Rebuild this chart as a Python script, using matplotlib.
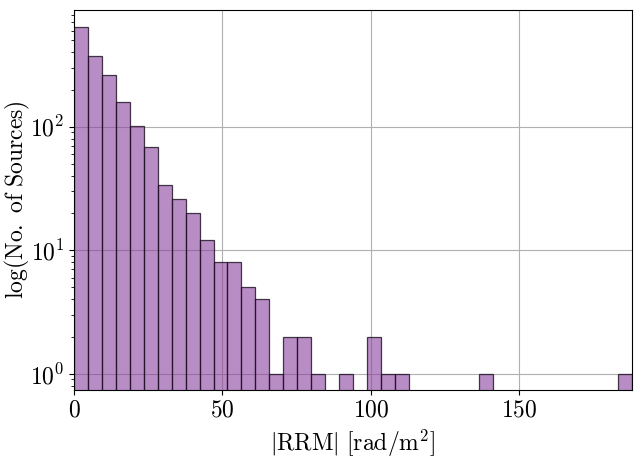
import numpy as np
import matplotlib
matplotlib.use("Agg")
import matplotlib.pyplot as plt

plt.rcParams['font.family'] = 'serif'
plt.rcParams['font.serif'] = ['cmr10', 'DejaVu Serif']
plt.rcParams['mathtext.fontset'] = 'cm'
plt.rcParams['axes.formatter.use_mathtext'] = True

# histogram: 40 bins from 0 to max |RRM|
rrm_max = 188.0
n_bins = 40
conteos = [641, 371, 260, 158, 101, 69, 34, 26, 20, 12,
           8, 8, 5, 4, 1, 2, 2, 1, 0, 1,
           0, 2, 1, 1, 0, 0, 0, 0, 0, 1,
           0, 0, 0, 0, 0, 0, 0, 0, 0, 1]

bordes = np.linspace(0, rrm_max, n_bins + 1)
centros = 0.5 * (bordes[:-1] + bordes[1:])

fig = plt.figure(figsize=(6.42, 4.58), dpi=100)
ax = fig.add_subplot(111)
fig.subplots_adjust(left=74/642, right=632/642, top=1-10/458, bottom=1-390/458)

ax.grid(True, color='#b0b0b0', linewidth=0.8)
ax.set_axisbelow(True)
ax.hist(centros, bins=bordes, weights=conteos,
        facecolor=(138/255, 63/255, 157/255, 0.6),
        edgecolor=(0.1, 0.05, 0.12, 0.8), linewidth=0.9, log=True)

ax.set_xlim(0, rrm_max)
ax.set_ylim(0.74, 880)
ax.set_xticks([0, 50, 100, 150])
ax.tick_params(axis='both', which='major', labelsize=17)

ax.set_xlabel(r'$|\mathrm{RRM}|\ [\mathrm{rad/m}^2]$', fontsize=17)
ax.set_ylabel(r'$\mathrm{log(No.\ of\ Sources)}$', fontsize=17)
ax.yaxis.set_label_coords(-0.075, 0.5)

fig.savefig("out.png", dpi=100)
